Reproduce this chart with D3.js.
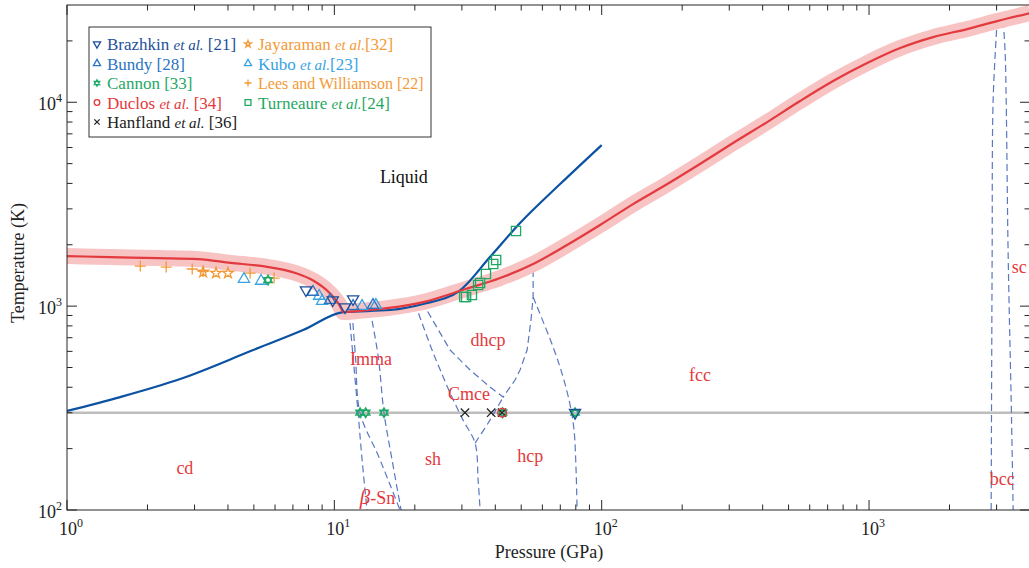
<!DOCTYPE html>
<html>
<head>
<meta charset="utf-8">
<script src="https://cdn.jsdelivr.net/npm/d3@7"></script>
<style>
  body { margin: 0; background: #fff; }
  text { font-family: "Liberation Serif", "Times New Roman", serif; }
</style>
</head>
<body>
<script>
const w = 1029;
const h = 568;
const pLeft = 67, pRight = 1030, pTop = 5, pBottom = 510;

// melting curve (red, with pink band)
const meltP = [1, 1.45, 2.2, 3.1, 4.1, 5.4, 7.2, 8.3, 9.6, 10.5, 10.8, 12.2, 16, 21.5, 31, 41.7, 55.4, 74.2, 98.6, 131, 176, 233, 310, 416, 552, 734, 984, 1307, 1737, 2328, 3015, 4000];
const meltT = [1760, 1740, 1720, 1700, 1630, 1570, 1450, 1340, 1160, 1000, 935, 946, 980, 1047, 1213, 1373, 1609, 1994, 2499, 3167, 3970, 4977, 6310, 7997, 10140, 12710, 15570, 18450, 20880, 22860, 25010, 27380];

// solid blue line
const bluP = [1, 1.58, 2.65, 4.97, 7.64, 10.8, 16.2, 21.5, 29.3, 38.2, 49.5, 69.9, 100];
const bluT = [306, 358, 439, 609, 763, 935, 957, 1024, 1186, 1741, 2556, 3971, 6166];

// dashed phase boundaries [P, T]
const immaA = [[11.35, 935], [11.75, 563], [12.27, 299], [12.7, 176], [13.25, 100]];
const immaB = [[11.65, 935], [12.0, 563], [12.48, 299], [14.57, 186], [16.16, 133], [17.6, 100]];
const immaC = [[13.6, 957], [14.6, 563], [15.34, 299], [16.44, 176], [17.77, 100]];
const shLine = [[20.0, 1035], [23.2, 609], [24.9, 486], [27.1, 375], [30.3, 276], [33.6, 213], [34.5, 140], [35.1, 100]];
const cmceLow = [[33.6, 213], [38.2, 276], [42.8, 358]];
const dhcpLine = [[21.3, 1047], [27.1, 609], [32.2, 486], [38.2, 401], [42.8, 358], [47.4, 434], [49.5, 486], [52.6, 609], [54.4, 855], [55.4, 1108], [55.4, 1591]];
const hcpLine = [[55.4, 1108], [65.8, 630], [71.7, 449], [76.2, 327], [78.8, 247], [80.2, 157], [80.9, 100]];
const bccLeft = [[2863, 100], [2887, 1741], [2912, 10250], [3014, 25010]];
const bccRight = [[3175, 25010], [3230, 17430], [3258, 10250], [3315, 1741], [3401, 346], [3460, 100]];

// experimental points
const brazP = [7.83, 9.86, 10.96, 11.75, 79.5];
const brazT = [1199, 1071, 990, 1083, 300];
const bundyP = [8.32, 9.64, 11.75, 13.95];
const bundyT = [1173, 1071, 1001, 1012];
const cannonP = [5.65, 12.48, 13.1, 15.34, 42.6, 79.5];
const cannonT = [1343, 300, 300, 300, 300, 300];
const duclosP = [42.4];
const duclosT = [300];
const hanfP = [30.8, 38.6, 42.4];
const hanfT = [300, 300, 300];
const jayaP = [3.23, 3.61, 4.0];
const jayaT = [1470, 1453, 1453];
const kuboP = [4.59, 5.32, 8.77, 9.0, 12.7, 14.3];
const kuboT = [1358, 1328, 1121, 1059, 1001, 1012];
const leesP = [1.88, 2.35, 2.94, 3.23, 4.84, 5.95];
const leesT = [1573, 1555, 1521, 1480, 1453, 1373];
const turnP = [30.6, 31.1, 32.7, 34.5, 35.1, 36.9, 39.3, 40.3, 47.8];
const turnT = [1108, 1108, 1134, 1269, 1298, 1437, 1609, 1683, 2335];

const xMajor = [1, 10, 100, 1000];
const xMajorLabels = ["0", "1", "2", "3"];
const yMajor = [100, 1000, 10000];
const yMajorLabels = ["2", "3", "4"];

// phase region labels
const phaseNames = ["dhcp", "fcc", "Imma", "Cmce", "sh", "hcp", "cd", "sc", "bcc"];
const phaseP = [37.6, 233, 13.7, 31.9, 23.4, 54, 2.76, 3650, 3148];
const phaseT = [640, 429, 514, 346, 166, 172, 150, 1453, 133];

const C = {
  braz: "#1d4f9b", bundy: "#2a74c2", kubo: "#38a3e2", cannon: "#1fa865",
  duclos: "#e4393c", hanf: "#222222", orange: "#f39a38", turn: "#1fa865",
  red: "#e23a3e", band: "#f8c3c3", blue: "#0b52a3", dash: "#5a77c0", phase: "#e4393c"
};

let svg = d3.select("body").append("svg")
  .attr("width", w)
  .attr("height", h)
  .style("background-color", "#fff");

const x = d3.scaleLog().domain([1, 4000]).range([pLeft, pRight]);
const y = d3.scaleLog().domain([100, 30000]).range([pBottom, pTop]);

svg.append("clipPath").attr("id", "plot")
  .append("rect").attr("x", pLeft).attr("y", pTop).attr("width", pRight - pLeft).attr("height", pBottom - pTop);

const g = svg.append("g").attr("clip-path", "url(#plot)");

// 300 K reference line
g.append("line")
  .attr("x1", pLeft).attr("x2", pRight)
  .attr("y1", y(300)).attr("y2", y(300))
  .attr("stroke", "#bdbdbd").attr("stroke-width", 2.5);

const pline2 = d3.line().x(d => x(d[0])).y(d => y(d[1])).curve(d3.curveCatmullRom.alpha(0.5));

[immaA, immaB, immaC, shLine, cmceLow, hcpLine, bccLeft, bccRight].forEach(function (b) {
  g.append("path").datum(b)
    .attr("fill", "none").attr("stroke", C.dash).attr("stroke-width", 1.2)
    .attr("stroke-dasharray", "7,4")
    .attr("d", pline2);
});
g.append("path").datum(dhcpLine)
  .attr("fill", "none").attr("stroke", C.dash).attr("stroke-width", 1.2)
  .attr("stroke-dasharray", "7,4")
  .attr("d", d3.line().x(d => x(d[0])).y(d => y(d[1])));

const melt = meltP.map((p, i) => [p, meltT[i]]);
const meltLine = d3.line().x(d => x(d[0])).y(d => y(d[1])).curve(d3.curveMonotoneX);

g.append("path").datum(melt)
  .attr("fill", "none").attr("stroke", C.band).attr("stroke-width", 16)
  .attr("stroke-linejoin", "round")
  .attr("d", meltLine);

g.append("path").datum(bluP.map((p, i) => [p, bluT[i]]))
  .attr("fill", "none").attr("stroke", C.blue).attr("stroke-width", 2.2)
  .attr("d", meltLine);

g.append("path").datum(melt)
  .attr("fill", "none").attr("stroke", C.red).attr("stroke-width", 2.2)
  .attr("d", meltLine);

// marker shapes
function hexagram(r) {
  function tri(a) {
    const pts = [0, 1, 2].map(i => {
      const t = a + i * 2 * Math.PI / 3;
      return (r * Math.cos(t)).toFixed(2) + "," + (r * Math.sin(t)).toFixed(2);
    });
    return "M" + pts.join("L") + "Z";
  }
  return tri(-Math.PI / 2) + tri(Math.PI / 2);
}
function markerPath(type, s) {
  if (type === "down" || type === "up") return d3.symbol(d3.symbolTriangle, s * s * 0.45)();
  if (type === "hex") return hexagram(s * 0.45);
  if (type === "star") return d3.symbol(d3.symbolStar, s * s * 0.3)();
  if (type === "circle") return d3.symbol(d3.symbolCircle, s * s * 0.5)();
  if (type === "square") return d3.symbol(d3.symbolSquare, s * s * 0.7)();
  if (type === "plus") return "M" + (-s / 2) + ",0H" + (s / 2) + "M0," + (-s / 2) + "V" + (s / 2);
  if (type === "cross") { const r = s * 0.38; return "M" + (-r) + "," + (-r) + "L" + r + "," + r + "M" + (-r) + "," + r + "L" + r + "," + (-r); }
}
function drawMarker(sel, type, color, s, cx, cy) {
  sel.append("path")
    .attr("d", markerPath(type, s))
    .attr("transform", "translate(" + cx + "," + cy + ")" + (type === "down" ? " rotate(180)" : ""))
    .attr("fill", "none")
    .attr("stroke", color)
    .attr("stroke-width", 1.3);
}

const series = [
  { P: leesP, T: leesT, type: "plus", color: C.orange },
  { P: jayaP, T: jayaT, type: "star", color: C.orange },
  { P: kuboP, T: kuboT, type: "up", color: C.kubo },
  { P: bundyP, T: bundyT, type: "up", color: C.bundy },
  { P: cannonP, T: cannonT, type: "hex", color: C.cannon },
  { P: turnP, T: turnT, type: "square", color: C.turn },
  { P: hanfP, T: hanfT, type: "cross", color: C.hanf },
  { P: duclosP, T: duclosT, type: "circle", color: C.duclos },
  { P: brazP, T: brazT, type: "down", color: C.braz }
];
const mk = svg.append("g");
series.forEach(function (s) {
  s.P.forEach(function (p, i) {
    drawMarker(mk, s.type, s.color, 11, x(p), y(s.T[i]));
  });
});

// phase labels
const lab = svg.append("g").attr("font-size", 18).attr("fill", C.phase).attr("text-anchor", "middle");
phaseNames.forEach(function (n, i) {
  lab.append("text").attr("x", x(phaseP[i])).attr("y", y(phaseT[i])).text(n);
});
const bsn = lab.append("text").attr("x", x(14.5)).attr("y", y(107));
bsn.append("tspan").attr("font-style", "italic").attr("font-size", 21).text("β");
bsn.append("tspan").text("-Sn");
svg.append("text").attr("x", x(18.2)).attr("y", y(4000)).attr("text-anchor", "middle")
  .attr("font-size", 18).attr("fill", "#111").text("Liquid");

// axes frame and ticks
const ax = svg.append("g").attr("stroke", "#262626").attr("stroke-width", 1);
ax.append("rect").attr("x", pLeft).attr("y", pTop).attr("width", pRight - pLeft).attr("height", pBottom - pTop)
  .attr("fill", "none");

const xMinor = [];
for (let e = 0; e < 4; e++) for (let k = 2; k <= 9; k++) { const v = k * Math.pow(10, e); if (v < 4000) xMinor.push(v); }
const yMinor = [];
for (let e = 2; e < 5; e++) for (let k = 2; k <= 9; k++) { const v = k * Math.pow(10, e); if (v < 30000) yMinor.push(v); }

xMajor.concat(xMinor).forEach(function (v) {
  const L = xMajor.includes(v) ? 10 : 5.5;
  ax.append("line").attr("x1", x(v)).attr("x2", x(v)).attr("y1", pBottom).attr("y2", pBottom - L);
  ax.append("line").attr("x1", x(v)).attr("x2", x(v)).attr("y1", pTop).attr("y2", pTop + L);
});
yMajor.concat(yMinor).forEach(function (v) {
  const L = yMajor.includes(v) ? 10 : 5.5;
  ax.append("line").attr("y1", y(v)).attr("y2", y(v)).attr("x1", pLeft).attr("x2", pLeft + L);
  ax.append("line").attr("y1", y(v)).attr("y2", y(v)).attr("x1", pRight).attr("x2", pRight - L);
});

const tl = svg.append("g").attr("font-size", 18).attr("fill", "#222");
xMajor.forEach(function (v, i) {
  const t = tl.append("text").attr("x", x(v) + 4).attr("y", 535).attr("text-anchor", "middle");
  t.append("tspan").text("10");
  t.append("tspan").attr("font-size", 12).attr("dy", -8).text(xMajorLabels[i]);
});
yMajor.forEach(function (v, i) {
  const t = tl.append("text").attr("x", 62).attr("y", y(v) + 8).attr("text-anchor", "end");
  t.append("tspan").text("10");
  t.append("tspan").attr("font-size", 12).attr("dy", -8).text(yMajorLabels[i]);
});

svg.append("text").attr("x", 549).attr("y", 558).attr("text-anchor", "middle")
  .attr("font-size", 18).attr("fill", "#222").text("Pressure (GPa)");
svg.append("text").attr("transform", "translate(24,263) rotate(-90)").attr("text-anchor", "middle")
  .attr("font-size", 18).attr("fill", "#222").text("Temperature (K)");

// legend
const lg = svg.append("g");
lg.append("rect").attr("x", 89).attr("y", 27).attr("width", 342).attr("height", 110)
  .attr("fill", "#fff").attr("stroke", "#333").attr("stroke-width", 1);

const legNames = ["Brazhkin", "Bundy", "Cannon", "Duclos", "Hanfland", "Jayaraman", "Kubo", "Lees and Williamson", "Turneaure"];
const legRefs = ["[21]", "[28]", "[33]", "[34]", "[36]", "[32]", "[23]", "[22]", "[24]"];
const legEtal = [true, false, false, true, true, true, true, false, true];
const legTypes = ["down", "up", "hex", "circle", "cross", "star", "up", "plus", "square"];
const legColors = [C.braz, C.bundy, C.cannon, C.duclos, C.hanf, C.orange, C.kubo, C.orange, C.turn];

legNames.forEach(function (n, i) {
  const col = i < 5 ? 0 : 1;
  const row = i < 5 ? i : i - 5;
  const mx = col === 0 ? 97 : 248;
  const cy = 44 + row * 19.5;
  drawMarker(lg, legTypes[i], legColors[i], 7, mx, cy);
  const t = lg.append("text").attr("x", mx + 10).attr("y", cy + 6).attr("font-size", i === 7 ? 16 : 17).attr("fill", legColors[i]);
  t.append("tspan").text(n + " ");
  if (legEtal[i]) {
    t.append("tspan").attr("font-style", "italic").attr("font-size", 15).text("et al.");
    t.append("tspan").text((col === 1 ? "" : " ") + legRefs[i]);
  } else {
    t.append("tspan").text(legRefs[i]);
  }
});
</script>
</body>
</html>
